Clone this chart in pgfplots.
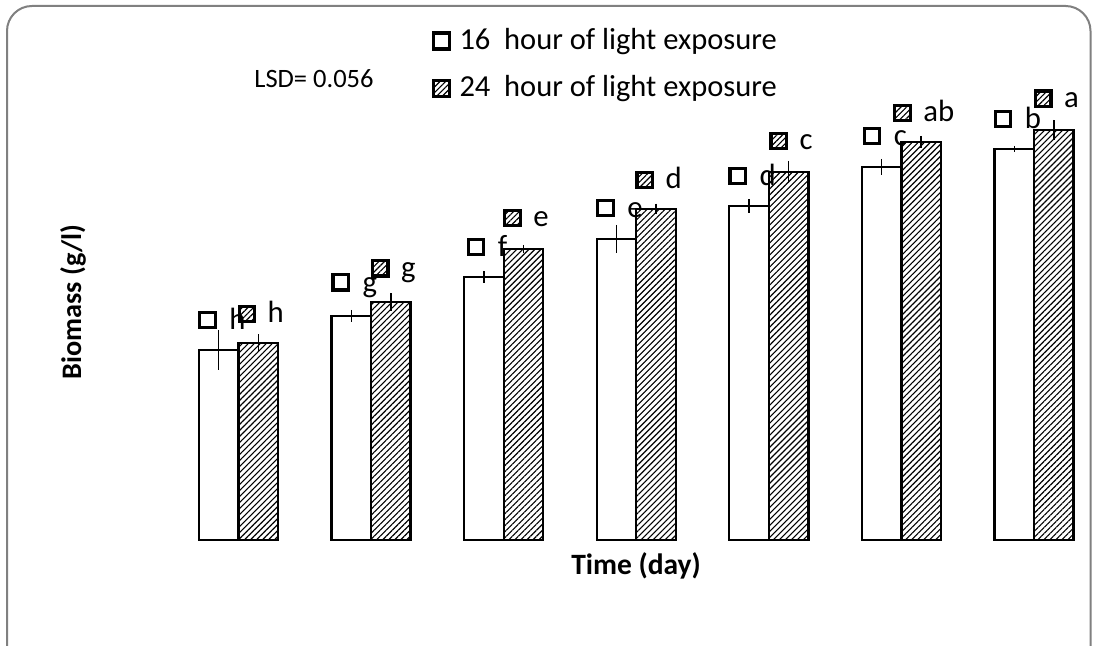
\documentclass[border=0pt]{standalone}
\usepackage{fontspec}
\setmainfont{Carlito}
\usepackage{pgfplots}
\pgfplotsset{compat=1.18}
\usepackage{pgfplotstable}
\usetikzlibrary{patterns.meta}

\newsavebox\whitekey
\newsavebox\hatchkey
\sbox\whitekey{\tikz\draw[line width=1.3pt, fill=white] (0,0) rectangle (6.2pt,6.2pt);}
\sbox\hatchkey{\tikz\draw[line width=1.3pt, pattern={Lines[angle=45,distance=1.6pt,line width=0.45pt]}] (0,0) rectangle (6.2pt,6.2pt);}

\pgfplotstableread{
x y e lab
0 0.950 0.100 h
1 1.120 0.030 g
2 1.315 0.030 f
3 1.505 0.070 e
4 1.670 0.033 d
5 1.865 0.040 c
6 1.955 0.015 b
}\whitedata

\pgfplotstableread{
x y e lab
0 0.985 0.043 h
1 1.190 0.045 g
2 1.455 0.020 e
3 1.655 0.027 d
4 1.840 0.055 c
5 1.990 0.030 ab
6 2.050 0.050 a
}\hatchdata

\begin{document}
\begin{tikzpicture}
\useasboundingbox (0,0) rectangle (439.6pt,258.4pt);
\begin{scope}
\clip (0,0) rectangle (439.6pt,258.4pt);
\draw[draw=black!50, line width=0.8pt, rounded corners=10pt] (2.8pt,-10pt) rectangle (436.2pt,256pt);
\end{scope}
\begin{axis}[
  at={(68.88pt,42.4pt)}, anchor=south west,
  scale only axis, width=365.96pt, height=192pt,
  xmin=-0.5, xmax=6.4, ymin=0, ymax=2.4,
  axis line style={draw=none},
  xtick=\empty, ytick=\empty,
  clip=false,
  ybar,
  xlabel={\fontsize{11.8}{13}\selectfont\bfseries Time (day)},
  ylabel={\fontsize{11.3}{13}\selectfont\bfseries Biomass (g/l)},
  xlabel style={at={(axis description cs:0.507,-0.053)}, anchor=center},
  ylabel style={at={(axis description cs:-0.1085,0.496)}, anchor=center, rotate=0},
  legend style={at={(axis description cs:0.2829,1.068)}, anchor=north west,
    draw=none, fill=none, inner sep=0pt, row sep=8.5pt,
    font=\fontsize{12.2}{13}\selectfont,
    nodes={inner sep=0pt, text height=8.5pt, text depth=2pt},
    /tikz/every odd column/.append style={column sep=3.5pt}},
  legend cell align=left,
  point meta=explicit symbolic,
  every node near coord/.append style={anchor=center, yshift=12.3pt, xshift=1.2pt, font=\fontsize{12.3}{13}\selectfont, inner sep=0pt},
]
\addplot[fill=white, draw=black, line width=0.9pt, bar width=0.298, bar shift=-0.149,
  nodes near coords={\raisebox{0.2pt}{\usebox\whitekey}\hspace{5pt}\pgfplotspointmeta},
  legend image code/.code={\draw[line width=1.3pt, fill=white] (0pt,-3.2pt) rectangle (6.4pt,3.2pt);},
  error bars/.cd, y dir=both, y explicit, error mark=none,
  error bar style={line width=0.6pt, black}]
  table[x=x, y=y, y error=e, meta=lab] {\whitedata};
\addlegendentry{16\ \ hour of light exposure}
\addplot[draw=black, line width=0.9pt, pattern={Lines[angle=45,distance=1.7pt,line width=0.45pt]}, bar width=0.298, bar shift=0.149,
  nodes near coords={\raisebox{0.2pt}{\usebox\hatchkey}\hspace{5pt}\pgfplotspointmeta},
  legend image code/.code={\draw[line width=1.3pt, pattern={Lines[angle=45,distance=1.6pt,line width=0.45pt]}] (0pt,-3.2pt) rectangle (6.4pt,3.2pt);},
  error bars/.cd, y dir=both, y explicit, error mark=none,
  error bar style={line width=0.6pt, black}]
  table[x=x, y=y, y error=e, meta=lab] {\hatchdata};
\addlegendentry{24\ \ hour of light exposure}
\node[font=\fontsize{10.6}{13}\selectfont] at (axis description cs:0.155,0.962) {LSD= 0.056};
\end{axis}
\end{tikzpicture}
\end{document}
